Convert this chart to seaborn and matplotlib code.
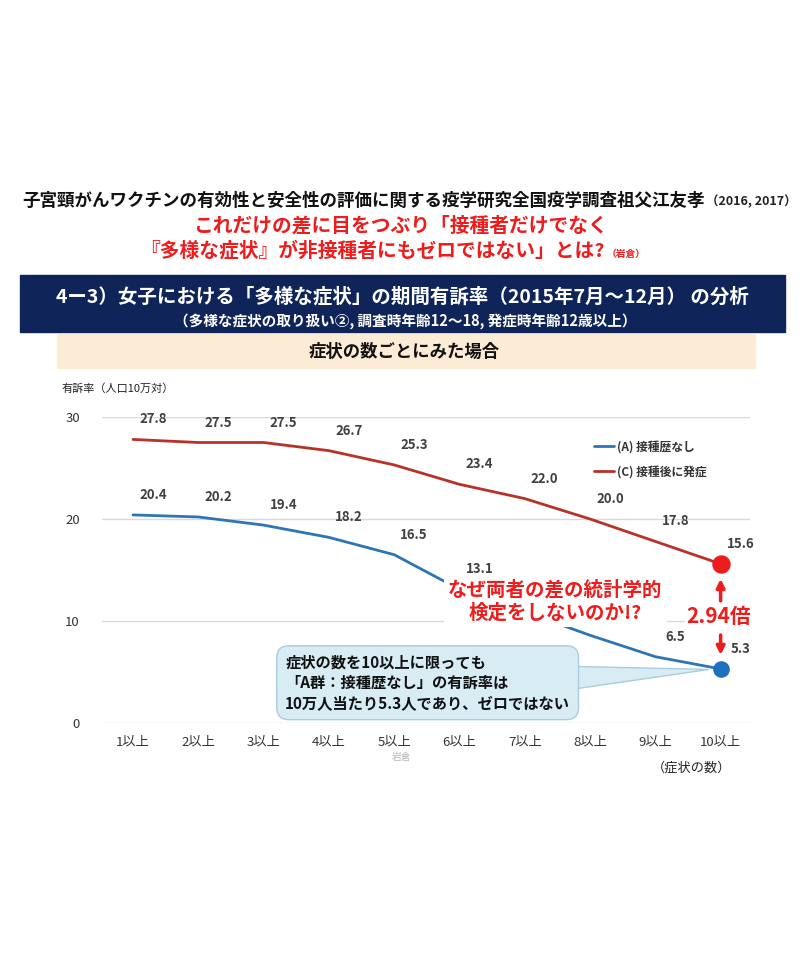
import numpy as np
import pandas as pd
import matplotlib.pyplot as plt
import seaborn as sns
from matplotlib.patches import Rectangle, Polygon

sns.set_theme(style="white")
plt.rcParams['font.family'] = ['Noto Sans CJK JP', 'DejaVu Sans']

# ---------------------------------------------------------------------------
# datos
# ---------------------------------------------------------------------------
categories = ["1以上", "2以上", "3以上", "4以上", "5以上",
              "6以上", "7以上", "8以上", "9以上", "10以上"]
rate_a = [20.4, 20.2, 19.4, 18.2, 16.5, 13.1, 10.9, 8.6, 6.5, 5.3]
rate_c = [27.8, 27.5, 27.5, 26.7, 25.3, 23.4, 22.0, 20.0, 17.8, 15.6]
name_a = "(A) 接種歴なし"
name_c = "(C) 接種後に発症"
hidden_a = [6, 7]   # etiquetas tapadas por los comentarios

df = pd.DataFrame({
    "症状の数": categories * 2,
    "有訴率": rate_a + rate_c,
    "群": [name_a] * len(rate_a) + [name_c] * len(rate_c),
})

blue = "#2e75b6"
dark_red = "#b83228"
red = "#ee1c1c"
navy = "#0f2459"
beige = "#fcebd5"

W, H = 800, 960
fig = plt.figure(figsize=(8, 9.6), dpi=100)
fig.patch.set_facecolor("white")


def fx(px):
    return px / W


def fy(py):
    return 1 - py / H


# ---------------------------------------------------------------------------
# cabecera
# ---------------------------------------------------------------------------
t1 = fig.text(fx(22), fy(201), "子宮頸がんワクチンの有効性と安全性の評価に関する疫学研究全国疫学調査祖父江友孝",
              fontsize=12.6, fontweight="bold", color="#111111", ha="left", va="center")
fig.canvas.draw()
bb = t1.get_window_extent(fig.canvas.get_renderer())
fig.text(bb.x1 / W + fx(2), fy(202), "（2016, 2017）", fontsize=9, fontweight="bold",
         color="#222222", ha="left", va="center")

fig.text(fx(400), fy(226), "これだけの差に目をつぶり「接種者だけでなく",
         fontsize=14.2, fontweight="bold", color=red, ha="center", va="center")
fig.text(fx(605), fy(251), "『多様な症状』が非接種者にもゼロではない」とは?",
         fontsize=14.2, fontweight="bold", color=red, ha="right", va="center")
fig.text(fx(607), fy(254), "（岩倉）", fontsize=7, fontweight="bold",
         color=red, ha="left", va="center")

fig.patches.append(Rectangle((fx(20), fy(332)), fx(765), 57 / H,
                             transform=fig.transFigure, color=navy, zorder=0))
fig.text(fx(402), fy(297), "4ー3）女子における「多様な症状」の期間有訴率（2015年7月～12月） の分析",
         fontsize=14, fontweight="bold", color="white", ha="center", va="center")
fig.text(fx(405), fy(321), "（多様な症状の取り扱い②, 調査時年齢12～18, 発症時年齢12歳以上）",
         fontsize=10.5, fontweight="bold", color="white", ha="center", va="center")

fig.patches.append(Rectangle((fx(57), fy(368)), fx(698), 34 / H,
                             transform=fig.transFigure, color=beige, zorder=0))
fig.text(fx(404), fy(352), "症状の数ごとにみた場合", fontsize=12.5, fontweight="bold",
         color="#111111", ha="center", va="center")

# ---------------------------------------------------------------------------
# gráfico de líneas
# ---------------------------------------------------------------------------
ax = fig.add_axes([fx(102), fy(723), 648 / W, 306 / H])
sns.lineplot(data=df, x="症状の数", y="有訴率", hue="群", sort=False,
             palette={name_a: blue, name_c: dark_red}, linewidth=2, ax=ax, zorder=3)

ax.scatter([len(categories) - 1], [rate_c[-1]], s=150, color=red, zorder=4)
ax.scatter([len(categories) - 1], [rate_a[-1]], s=120, color="#1f6fbf", zorder=4)

for i, v in enumerate(rate_c):
    ax.annotate(f"{v:.1f}", (i, v), xytext=(20, 20), textcoords="offset pixels",
                ha="center", va="center", fontsize=9.5, fontweight="bold", color="#404040")
for i, v in enumerate(rate_a):
    if i in hidden_a:
        continue
    ax.annotate(f"{v:.1f}", (i, v), xytext=(20, 20), textcoords="offset pixels",
                ha="center", va="center", fontsize=9.5, fontweight="bold", color="#404040")

ax.set_xlim(-0.475, 9.45)
ax.set_ylim(0, 30)
ax.set_yticks([0, 10, 20, 30])
ax.grid(axis="y", color="#d9d9d9", lw=1)
ax.grid(axis="x", visible=False)
for s in ax.spines.values():
    s.set_visible(False)
ax.tick_params(axis="both", length=0, labelsize=9.5, labelcolor="#333333")
ax.tick_params(axis="y", pad=16)
ax.tick_params(axis="x", pad=9)
ax.set_xlabel("")
ax.set_ylabel("")

leg = ax.legend(loc="upper left", bbox_to_anchor=(fx(583), fy(430)), bbox_transform=fig.transFigure,
                frameon=False, fontsize=8.5, handlelength=1.7, handletextpad=0.3,
                labelspacing=1.0, title=None)
for t in leg.get_texts():
    t.set_fontweight("bold")
    t.set_color("#333333")

fig.text(fx(62), fy(389), "有訴率（人口10万対）", fontsize=8, color="#222222",
         ha="left", va="center")
fig.text(fx(692), fy(768), "（症状の数）", fontsize=9.5, color="#222222",
         ha="center", va="center")
fig.text(fx(402), fy(757), "岩倉", fontsize=7, color="#b5b5b5", ha="center", va="center")

# comentario rojo
ax.text(6.47, 11.9, "なぜ両者の差の統計学的\n検定をしないのか!?", fontsize=14,
        fontweight="bold", color=red, ha="center", va="center", linespacing=1.25,
        zorder=5, bbox=dict(facecolor="white", edgecolor="none", pad=3))
ax.text(8.97, 10.4, "2.94倍", fontsize=15, fontweight="bold", color=red,
        ha="center", va="center", zorder=5,
        bbox=dict(facecolor="white", edgecolor="none", pad=1))
ax.annotate("", xy=(9, 14.4), xytext=(9, 11.7),
            arrowprops=dict(arrowstyle="-|>", color=red, lw=2.5, mutation_scale=12), zorder=5)
ax.annotate("", xy=(9, 6.4), xytext=(9, 8.9),
            arrowprops=dict(arrowstyle="-|>", color=red, lw=2.5, mutation_scale=12), zorder=5)

# globo de texto
ax.add_patch(Polygon([(6.4, 5.6), (8.82, 5.25), (6.4, 3.0)], closed=True,
                     facecolor="#d8ecf4", edgecolor="#a8cde0", lw=1, zorder=5))
ax.text(2.33, 3.95, "症状の数を10以上に限っても\n「A群：接種歴なし」の有訴率は\n10万人当たり5.3人であり、ゼロではない",
        fontsize=11, fontweight="bold", color="#111111", ha="left", va="center",
        linespacing=1.35, zorder=6,
        bbox=dict(boxstyle="round,pad=0.55,rounding_size=0.8", facecolor="#d8ecf4",
                  edgecolor="#a8cde0", lw=1))

plt.savefig("out.png", dpi=100, facecolor="white")
plt.close()
